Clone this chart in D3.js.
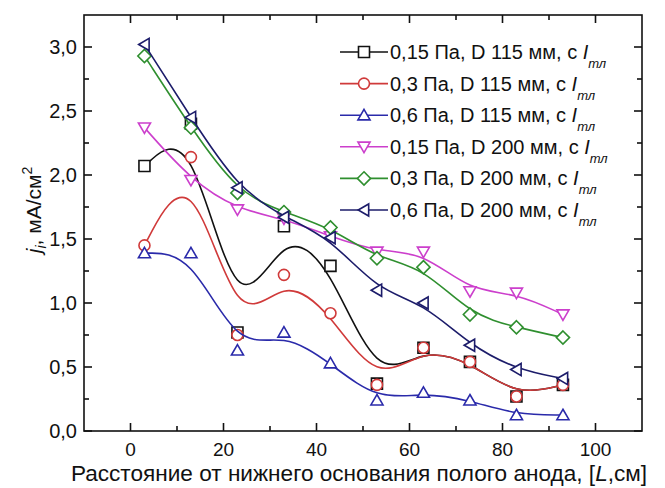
<!DOCTYPE html>
<html>
<head>
<meta charset="utf-8">
<script src="https://cdn.jsdelivr.net/npm/d3@7/dist/d3.min.js"></script>
<style>
  html, body { margin: 0; padding: 0; background: #fff; }
  svg { display: block; }
  text { font-family: "Liberation Sans", Arial, sans-serif; fill: #111; }
</style>
</head>
<body>
<svg id="chart" width="665" height="488"></svg>
<script>
// Distance from the lower base of the hollow anode, cm
const positions = [3, 13, 23, 33, 43, 53, 63, 73, 83, 93];

// Ion current density j_i, mA/cm^2, one array per regime
const p015_d115 = [2.07, 2.40, 0.77, 1.60, 1.29, 0.37, 0.65, 0.54, 0.27, 0.36];
const p03_d115  = [1.45, 2.14, 0.75, 1.22, 0.92, 0.36, 0.65, 0.54, 0.27, 0.36];
const p06_d115  = [1.39, 1.39, 0.63, 0.77, 0.53, 0.24, 0.30, 0.24, 0.125, 0.125];
const p015_d200 = [2.37, 1.96, 1.73, 1.66, 1.52, 1.40, 1.40, 1.09, 1.08, 0.91];
const p03_d200  = [2.93, 2.37, 1.86, 1.71, 1.59, 1.35, 1.28, 0.91, 0.81, 0.73];
const p06_d200  = [3.02, 2.45, 1.90, 1.67, 1.51, 1.10, 1.00, 0.67, 0.48, 0.41];

const seriesLabels = [
  "0,15 Па, D 115 мм, с ",
  "0,3 Па, D 115 мм, с ",
  "0,6 Па, D 115 мм, с ",
  "0,15 Па, D 200 мм, с ",
  "0,3 Па, D 200 мм, с ",
  "0,6 Па, D 200 мм, с "
];
const seriesColors = ["#111111", "#d03a3a", "#2a2aaa", "#cc3fcc", "#2f8f2f", "#1c1c6a"];
const seriesSymbols = ["square", "circle", "up", "down", "diamond", "left"];
const seriesValues = [p015_d115, p03_d115, p06_d115, p015_d200, p03_d200, p06_d200];

const xMajorTicks = [0, 20, 40, 60, 80, 100];
const xMinorTicks = [10, 30, 50, 70, 90];
const yMajorTicks = [0, 0.5, 1.0, 1.5, 2.0, 2.5, 3.0];
const yMinorTicks = [0.25, 0.75, 1.25, 1.75, 2.25, 2.75];

const svg = d3.select("#chart");
const pLeft = 84, pRight = 642, pTop = 15, pBottom = 431;

const x = d3.scaleLinear().domain([-10, 110]).range([pLeft, pRight]);
const y = d3.scaleLinear().domain([0, 3.25]).range([pBottom, pTop]);
const fmt = v => d3.format(".1f")(v).replace(".", ",");

// Marker shapes
function markerPath(kind, s) {
  const h = s / 2;
  switch (kind) {
    case "square": return `M${-h},${-h}H${h}V${h}H${-h}Z`;
    case "circle": return d3.symbol(d3.symbolCircle, Math.PI * h * h)();
    case "up": return `M0,${-h * 1.05}L${h * 1.1},${h * 0.85}L${-h * 1.1},${h * 0.85}Z`;
    case "down": return `M0,${h * 1.05}L${h * 1.1},${-h * 0.85}L${-h * 1.1},${-h * 0.85}Z`;
    case "diamond": return `M0,${-h * 1.2}L${h * 1.2},0L0,${h * 1.2}L${-h * 1.2},0Z`;
    case "left": return `M${-h * 1.05},0L${h * 0.85},${-h * 1.1}L${h * 0.85},${h * 1.1}Z`;
  }
}

// Smoothed B-spline curves with hollow markers
const line = d3.line().x((d, i) => x(positions[i])).y(d => y(d)).curve(d3.curveBasis);
const plot = svg.append("g");
seriesValues.forEach((vals, k) => {
  const g = plot.append("g");
  g.append("path").attr("d", line(vals)).attr("fill", "none")
    .attr("stroke", seriesColors[k]).attr("stroke-width", 1.6);
  g.selectAll("path.m").data(vals).join("path").attr("class", "m")
    .attr("transform", (d, i) => `translate(${x(positions[i])},${y(d)})`)
    .attr("d", markerPath(seriesSymbols[k], 11))
    .attr("fill", "#fff").attr("stroke", seriesColors[k]).attr("stroke-width", 1.6);
});

// Frame with inward ticks on all four sides
const axes = svg.append("g").attr("stroke", "#111").attr("stroke-width", 1.6);
axes.append("rect").attr("x", pLeft).attr("y", pTop)
  .attr("width", pRight - pLeft).attr("height", pBottom - pTop).attr("fill", "none");
function tickLines(vals, len, vertical) {
  vals.forEach(v => {
    if (vertical) {
      axes.append("line").attr("x1", x(v)).attr("x2", x(v)).attr("y1", pBottom).attr("y2", pBottom - len);
      axes.append("line").attr("x1", x(v)).attr("x2", x(v)).attr("y1", pTop).attr("y2", pTop + len);
    } else {
      axes.append("line").attr("y1", y(v)).attr("y2", y(v)).attr("x1", pLeft).attr("x2", pLeft + len);
      axes.append("line").attr("y1", y(v)).attr("y2", y(v)).attr("x1", pRight).attr("x2", pRight - len);
    }
  });
}
tickLines(xMajorTicks, 8, true);
tickLines(xMinorTicks, 5, true);
tickLines(yMajorTicks, 8, false);
tickLines(yMinorTicks, 5, false);

svg.append("g").selectAll("text").data(xMajorTicks).join("text")
  .attr("x", d => x(d)).attr("y", 456).attr("text-anchor", "middle")
  .attr("font-size", 19).text(d => d);
svg.append("g").selectAll("text").data(yMajorTicks).join("text")
  .attr("x", 77).attr("y", d => y(d) + 7).attr("text-anchor", "end")
  .attr("font-size", 20).text(d => fmt(d));

// Axis titles
const xt = svg.append("text").attr("x", 359).attr("y", 481).attr("text-anchor", "middle")
  .attr("font-size", 22.6);
xt.append("tspan").text("Расстояние от нижнего основания полого анода, [");
xt.append("tspan").attr("font-style", "italic").text("L");
xt.append("tspan").text(",см]");

const yt = svg.append("text").attr("transform", "translate(41,210) rotate(-90)")
  .attr("text-anchor", "middle").attr("font-size", 21);
yt.append("tspan").attr("font-style", "italic").text("j");
yt.append("tspan").attr("font-style", "italic").attr("font-size", 14).attr("dy", 5).text("i");
yt.append("tspan").attr("dy", -5).text(", мА/см");
yt.append("tspan").attr("font-size", 14).attr("dy", -9).text("2");

// Legend
const legend = svg.append("g");
seriesLabels.forEach((lab, k) => {
  const ly = 52 + k * 31.6;
  const g = legend.append("g");
  g.append("line").attr("x1", 340).attr("x2", 388).attr("y1", ly).attr("y2", ly)
    .attr("stroke", seriesColors[k]).attr("stroke-width", 1.6);
  g.append("path").attr("transform", `translate(364,${ly})`)
    .attr("d", markerPath(seriesSymbols[k], 11))
    .attr("fill", "#fff").attr("stroke", seriesColors[k]).attr("stroke-width", 1.6);
  const t = g.append("text").attr("x", 390).attr("y", ly + 7).attr("font-size", 20);
  t.append("tspan").text(lab);
  t.append("tspan").attr("font-style", "italic").text("I");
  t.append("tspan").attr("font-style", "italic").attr("font-size", 13).attr("dy", 9).text("тл");
});
</script>
</body>
</html>
